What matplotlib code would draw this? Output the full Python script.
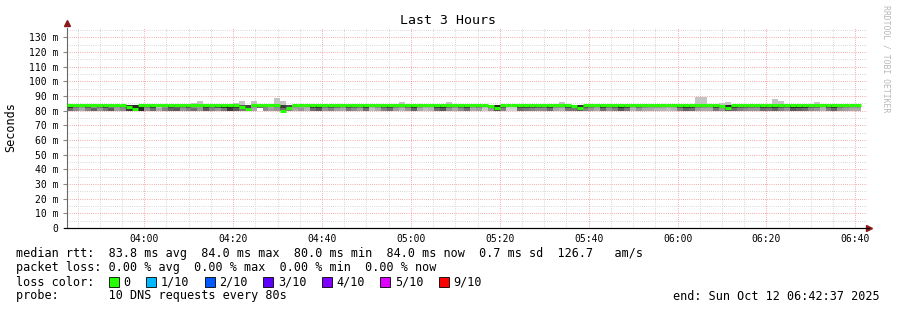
import numpy as np
import matplotlib
matplotlib.use('Agg')
import matplotlib.pyplot as plt
from matplotlib.patches import Rectangle

plt.rcParams['font.family'] = ['DejaVu Sans Mono']

W, H = 897, 310

# one step = 80 s, 3 hour window starting 03:42:37
step_min = 80.0 / 60.0

# median ping (ms) per step
median_ms = [
    84, 84, 84, 84, 84, 84, 84, 84, 84, 84,
    82.5, 81.3, 84, 84, 84, 84, 84, 84, 84, 84,
    84, 84, 84, 84, 84, 84, 84, 84, 84, 82.5,
    81.3, 84, 84, 84, 84, 84, 79.8, 81.8, 84, 84,
    84, 84, 84, 84, 84, 84, 84, 84, 84, 84,
    84, 84, 84, 84, 84, 84, 84, 84, 84, 84,
    84, 84, 84, 84, 84, 84, 84, 84, 84, 84,
    84, 83.0, 81.5, 84, 84, 84, 84, 84, 84, 84,
    84, 84, 84, 84, 84, 83.0, 81.5, 84, 84, 84,
    84, 84, 84, 84, 84, 84, 84, 84, 84, 84,
    84, 84, 84, 84, 84, 84, 84, 84, 84, 84,
    83.0, 81.5, 84, 84, 84, 84, 84, 84, 84, 84,
    84, 84, 84, 84, 84, 84, 84, 84, 84, 84,
    84, 84, 84, 84,
]

# highest ping (ms) per step
smoke_hi_ms = [
    84, 84, 84, 84, 84, 84, 84, 84, 84, 84,
    84, 84, 84, 84, 84, 84, 84, 84, 84, 84,
    84, 85, 86.5, 84, 84, 84, 84, 84, 85, 86.5,
    84, 86.5, 84, 84, 84, 88.3, 86.5, 84, 84, 84,
    84, 84, 84, 84, 84, 84, 84, 84, 84, 84,
    84, 84, 84, 84, 84, 84, 86, 84, 84, 84,
    84, 84, 84, 84, 86, 84, 84, 84, 84, 84,
    84, 84, 84, 84, 84, 84, 84, 84, 84, 84,
    84, 84, 84, 86, 84, 84, 84, 84, 84, 84,
    84, 84, 84, 84, 84, 84, 84, 84, 84, 84,
    84, 84, 84, 84, 84, 84, 89.5, 89.5, 84, 84,
    85.5, 86, 84, 84, 84, 84, 84, 84, 84, 88,
    86.5, 84, 84, 84, 84, 84, 86, 84, 84, 84,
    84, 84, 84, 84,
]

# lowest ping (ms) per step
smoke_lo_ms = [
    80, 80, 80, 80, 80, 80, 80, 80, 80, 80,
    80, 80, 80, 80, 80, 80, 80, 80, 80, 80,
    80, 80, 80, 80, 80, 80, 80, 80, 80, 80,
    80, 80, 82, 80, 80, 80, 80, 80, 80, 80,
    80, 80, 80, 80, 80, 80, 80, 80, 80, 80,
    80, 80, 80, 80, 80, 80, 80, 80, 80, 80,
    80, 80, 80, 80, 80, 80, 80, 80, 80, 80,
    80, 80, 80, 80, 80, 80, 80, 80, 80, 80,
    80, 80, 80, 80, 80, 80, 80, 80, 80, 80,
    80, 80, 80, 80, 80, 80, 80, 80, 80, 80,
    80, 80, 80, 80, 80, 80, 80, 80, 80, 80,
    80, 80, 80, 80, 80, 80, 80, 80, 80, 80,
    80, 80, 80, 80, 80, 80, 80, 80, 80, 80,
    80, 80, 80, 80,
]

# smoke grey level (0-255) for the 82-84 ms and 80-82 ms parts
shade_upper = [
    45, 120, 150, 90, 140, 110, 70, 120, 150, 130,
    50, 40, 35, 120, 60, 190, 140, 70, 100, 120,
    90, 140, 150, 60, 110, 80, 45, 40, 60, 90,
    70, 150, 110, 130, 170, 140, 60, 80, 150, 160,
    170, 60, 50, 120, 90, 110, 140, 80, 100, 120,
    60, 170, 140, 90, 70, 130, 150, 110, 50, 140,
    170, 170, 60, 45, 110, 140, 100, 60, 150, 130,
    180, 120, 40, 90, 200, 200, 70, 70, 80, 90,
    100, 60, 140, 150, 70, 80, 50, 90, 120, 150,
    60, 120, 90, 40, 70, 160, 110, 140, 150, 150,
    160, 170, 160, 80, 50, 60, 130, 140, 150, 70,
    110, 40, 60, 90, 100, 110, 120, 60, 70, 50,
    90, 110, 40, 45, 50, 100, 110, 170, 80, 50,
    120, 140, 150, 150,
]
shade_lower = [
    110, 140, 170, 130, 100, 150, 120, 90, 160, 140,
    60, 50, 40, 150, 110, 170, 130, 100, 90, 150,
    130, 110, 150, 90, 130, 150, 120, 60, 90, 120,
    110, 170, 150, 140, 160, 150, 110, 130, 170, 150,
    180, 110, 90, 150, 130, 160, 170, 120, 140, 160,
    110, 190, 170, 130, 110, 160, 180, 150, 100, 170,
    190, 180, 110, 90, 150, 170, 140, 110, 170, 160,
    200, 150, 80, 130, 210, 210, 110, 120, 130, 140,
    140, 110, 170, 180, 120, 120, 90, 130, 150, 170,
    110, 150, 130, 90, 120, 180, 150, 170, 170, 180,
    180, 190, 180, 130, 100, 110, 160, 170, 170, 120,
    150, 90, 110, 130, 140, 150, 150, 110, 120, 100,
    130, 150, 90, 100, 110, 140, 150, 180, 130, 100,
    150, 160, 170, 170,
]

loss_labels = ['0', '1/10', '2/10', '3/10', '4/10', '5/10', '9/10']
loss_colors = ['#26ff00', '#00b8ff', '#0059ff', '#5e00ff', '#7e00ff', '#dd00ff', '#ff0000']

rtt_line = 'median rtt:  83.8 ms avg  84.0 ms max  80.0 ms min  84.0 ms now  0.7 ms sd  126.7   am/s'
loss_line = 'packet loss: 0.00 % avg  0.00 % max  0.00 % min  0.00 % now'
probe_line = 'probe:       10 DNS requests every 80s'
end_line = 'end: Sun Oct 12 06:42:37 2025'

# 03:42:37 start -> minutes to the first full tick
first_major = 17 + 23 / 60.0
major_labels = ['04:00', '04:20', '04:40', '05:00', '05:20', '05:40', '06:00', '06:20', '06:40']


def px(x, y):
    return x / W, 1 - y / H


fig = plt.figure(figsize=(W / 100, H / 100), dpi=100)
fig.patch.set_facecolor('white')
ax = fig.add_axes([67 / W, 82 / H, 800 / W, 200 / H])
ax.set_xlim(0, 180)
ax.set_ylim(0, 136.3)

n = len(median_ms)
t0 = np.arange(n) * step_min
med = np.array(median_ms)
hi = np.array(smoke_hi_ms)
lo = np.array(smoke_lo_ms)
mid = np.full(n, 82.0)
top = np.full(n, 84.0)

g_up = [(v / 255, v / 255, v / 255) for v in shade_upper]
g_lo = [(v / 255, v / 255, v / 255) for v in shade_lower]

lower_h = np.clip(mid - lo, 0, None)
ax.bar(t0, lower_h, width=step_min, bottom=lo, align='edge', color=g_lo, linewidth=0, zorder=2)
ax.bar(t0, top - mid, width=step_min, bottom=mid, align='edge', color=g_up, linewidth=0, zorder=2)
ax.bar(t0, hi - top, width=step_min, bottom=top, align='edge', color='#c4c4c4', linewidth=0, zorder=2)
ax.hlines(med, t0, t0 + step_min, colors='#26ff00', linewidth=2.2, zorder=3)

# grid
major_x = first_major + 20 * np.arange(len(major_labels))
minor_x = np.arange(first_major - 15, 180, 5)
ax.set_xticks(major_x)
ax.set_xticklabels(major_labels, fontsize=7)
ax.set_xticks(minor_x, minor=True)
ax.set_yticks(np.arange(0, 131, 10))
ax.set_yticklabels(['0'] + ['%d m' % v for v in range(10, 131, 10)], fontsize=7)
ax.set_yticks(np.arange(5, 136, 10), minor=True)
dots = (0, (0.72, 1.44))
ax.grid(which='minor', color='#cccccc', linestyle=dots, linewidth=0.72)
ax.grid(which='major', color='#f09090', linestyle=dots, linewidth=0.72)
ax.set_axisbelow(True)
ax.tick_params(axis='x', which='both', length=0, pad=4)
ax.tick_params(axis='y', which='major', length=3, color='#888888', pad=3)
ax.tick_params(axis='y', which='minor', length=0)
for s in ('top', 'right'):
    ax.spines[s].set_visible(False)
ax.spines['left'].set_color('#666666')
ax.spines['bottom'].set_color('black')
ax.spines['left'].set_linewidth(0.8)
ax.spines['bottom'].set_linewidth(0.8)

# axis arrows
fig.add_artist(plt.Line2D([px(67, 0)[0]], [px(0, 23)[1]], marker='^', markersize=4,
                          color='#8b1a1a', transform=fig.transFigure))
fig.add_artist(plt.Line2D([px(869, 0)[0]], [px(0, 228)[1]], marker='>', markersize=4,
                          color='#8b1a1a', transform=fig.transFigure))
fig.add_artist(plt.Line2D([px(64, 0)[0], px(869, 0)[0]], [px(0, 228)[1]] * 2,
                          color='black', linewidth=0.8, transform=fig.transFigure))

fig.text(*px(448, 20), 'Last 3 Hours', ha='center', va='center', fontsize=9.5)
fig.text(*px(11, 127), 'Seconds', ha='center', va='center', rotation=90, fontsize=8.5)
fig.text(*px(886, 59), 'RRDTOOL / TOBI OETIKER', ha='center', va='center', rotation=-90,
         fontsize=5.9, color='#b8b8b8')

fs = 8.5
fig.text(*px(16, 254), rtt_line, ha='left', va='center', fontsize=fs)
fig.text(*px(16, 268), loss_line, ha='left', va='center', fontsize=fs)
fig.text(*px(16, 282), 'loss color:', ha='left', va='center', fontsize=fs)
fig.text(*px(16, 296), probe_line, ha='left', va='center', fontsize=fs)
fig.text(*px(880, 296), end_line, ha='right', va='center', fontsize=fs)

cw = 7.16
x = 108.7
for lab, col in zip(loss_labels, loss_colors):
    fig.add_artist(Rectangle(px(x, 287), 10 / W, 10 / H, facecolor=col, edgecolor='black',
                             linewidth=0.6, transform=fig.transFigure))
    fig.text(*px(x + 14.6, 282), lab, ha='left', va='center', fontsize=fs)
    x += 14.6 + len(lab) * cw + 15.4

fig.savefig('out.png', dpi=100)
